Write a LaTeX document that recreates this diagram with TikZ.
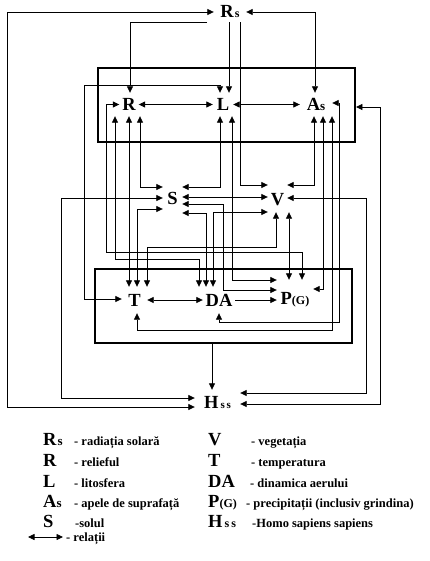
\documentclass[tikz,border=0pt]{standalone}
\usepackage{fontspec}
\setmainfont{Liberation Serif}
\usetikzlibrary{arrows.meta}
\newcommand{\lowtxt}[2][12]{{\fontsize{#1}{#1}\selectfont #2}}
\begin{document}
\begin{tikzpicture}[x=1pt,y=-1pt]
        \tikzset{
            factor/.style={font=\fontsize{18.5}{19}\selectfont\bfseries,inner sep=0pt},
            frame/.style={draw,line width=1.9pt,inner sep=0pt,minimum width=257,minimum height=74},
            rel/.style={{Triangle[length=6.5pt,width=6pt]}-{Triangle[length=6.5pt,width=6pt]},line width=0.8pt},
            dir/.style={-{Triangle[length=6.5pt,width=6pt]},line width=0.8pt},
            sym/.style={font=\fontsize{18.5}{19}\selectfont\bfseries,anchor=base west,inner sep=0pt},
            key/.style={font=\fontsize{12.5}{13}\selectfont\bfseries,anchor=base west,inner sep=0pt},
        }
        \useasboundingbox (0,0) rectangle (429,561);

        \node[frame] (top) at (226.5,105) {};
        \node[frame] (bottom) at (223.5,306) {};

        \node[factor,minimum width=32,minimum height=20] (Rs) at (230,12) {R\kern1pt\lowtxt{s}};
        \node[factor,minimum width=19,minimum height=23] (R) at (129,104.5) {R};
        \node[factor,minimum width=20,minimum height=23] (L) at (223,104.5) {L};
        \node[factor,minimum width=32,minimum height=23] (As) at (316,104.5) {A\lowtxt[13]{s}};
        \node[factor,minimum width=19,minimum height=30] (S) at (172.5,198) {S};
        \node[factor,minimum width=19,minimum height=24] (V) at (277.5,200) {V};
        \node[factor,minimum width=25,minimum height=26] (T) at (134.5,300) {T};
        \node[factor,minimum width=32,minimum height=26] (DA) at (219,300) {DA};
        \node[factor,minimum width=36,minimum height=40] (P) at (295,300) {P\lowtxt{(G)}};
        \node[factor,minimum width=45,minimum height=24] (Hss) at (217.5,402) {H\kern2pt\lowtxt[11]{s\,s}};

        \draw[rel] (Rs.west) -| (7,407) -- (Hss.west |- 0,407);
        \draw[dir] (Rs.south -| 207,0) -| (R.north -| 130,0);
        \draw[dir] (Rs.south -| 229,0) -- (L.north -| 229,0);
        \draw[dir] (Rs.south -| 240,0) |- (V.west |- 0,185);
        \draw[rel] (Rs.east) -| (As.north -| 315,0);

        \draw[rel] (R.east) -- (L.west);
        \draw[rel] (L.east) -- (As.west);
        \draw[rel] (L.north -| 220,0) |- (84,85) |- (T.west |- 0,299);
        \draw[rel] (R.west) -| (106,252) -| (P.north -| 302,0);
        \draw[rel] (R.south -| 140,0) |- (S.west |- 0,187);
        \draw[rel] (R.south -| 115,0) |- (199,259) -- (DA.north -| 199,0);
        \draw[rel] (R.south -| 129,0) -- (T.north -| 129,0);

        \draw[rel] (S.west |- 0,209) -| (T.north -| 137,0);
        \draw[rel] (S.west) -| (61,398) -- (Hss.west |- 0,398);
        \draw[rel] (S.east |- 0,187) -| (L.south -| 220,0);
        \draw[rel] (S.east |- 0,197) -- (V.west |- 0,197);
        \draw[rel] (S.east |- 0,204) -| (223,290) -- (P.west |- 0,290);
        \draw[rel] (S.east |- 0,213) -| (DA.north -| 206,0);

        \draw[rel] (T.north -| 147,0) |- (276,247) -- (V.south -| 276,0);
        \draw[rel] (V.west |- 0,212) -| (DA.north -| 213,0);
        \draw[rel] (V.east |- 0,185) -| (As.south -| 314,0);
        \draw[rel] (V.east |- 0,198) -| (366,393) -- (Hss.east |- 0,393);
        \draw[rel] (V.south -| 289,0) -- (P.north -| 289,0);

        \draw[rel] (L.south -| 232,0) |- (P.west |- 0,280);
        \draw[rel] (As.south -| 323,0) |- (P.east |- 0,289);
        \draw[rel] (As.south -| 332,0) |- (137,330) -- (T.south -| 137,0);
        \draw[rel] (As.east |- 0,103) -| (339,322) -| (DA.south -| 219,0);

        \draw[rel] (T.east) -- (DA.west);
        \draw[dir] (DA.east) -- (P.west);

        \draw[rel] (top.east |- 0,107) -| (380,404) -- (Hss.east |- 0,404);
        \draw[dir] (bottom.south -| 212,0) -- (Hss.north -| 212,0);

        \node[sym] (kRs) at (43,445) {R\kern1pt\lowtxt[13]{s}};
        \node[key] (tRs) at (74,445) {- radiația solară};
        \node[sym] (kR) at (43,466) {R};
        \node[key] (tR) at (74,466) {- relieful};
        \node[sym] (kL) at (43,487) {L};
        \node[key] (tL) at (74,487) {- litosfera};
        \node[sym] (kAs) at (43,507) {A\lowtxt[13]{s}};
        \node[key] (tAs) at (74,507) {- apele de suprafață};
        \node[sym] (kS) at (43,527) {S};
        \node[key] (tS) at (75,527) {-solul};

        \node[sym] (kV) at (208,445) {V};
        \node[key] (tV) at (251,445) {- vegetația};
        \node[sym] (kT) at (208,466) {T};
        \node[key] (tT) at (251,466) {- temperatura};
        \node[sym] (kDA) at (208,487) {DA};
        \node[key] (tDA) at (250,487) {- dinamica aerului};
        \node[sym] (kP) at (208,507) {P\lowtxt{(G)}};
        \node[key] (tP) at (246,507) {- precipitații (inclusiv grindina)};
        \node[sym] (kH) at (208,527) {H\kern2pt\lowtxt{s\,s}};
        \node[key] (tH) at (252,527) {-Homo sapiens sapiens};

        \coordinate (k1) at (28,537);
        \coordinate (k2) at (63,537);
        \draw[rel] (k1) -- (k2);
        \node[key] (trel) at (66,541) {- relații};
    \end{tikzpicture}
\end{document}
